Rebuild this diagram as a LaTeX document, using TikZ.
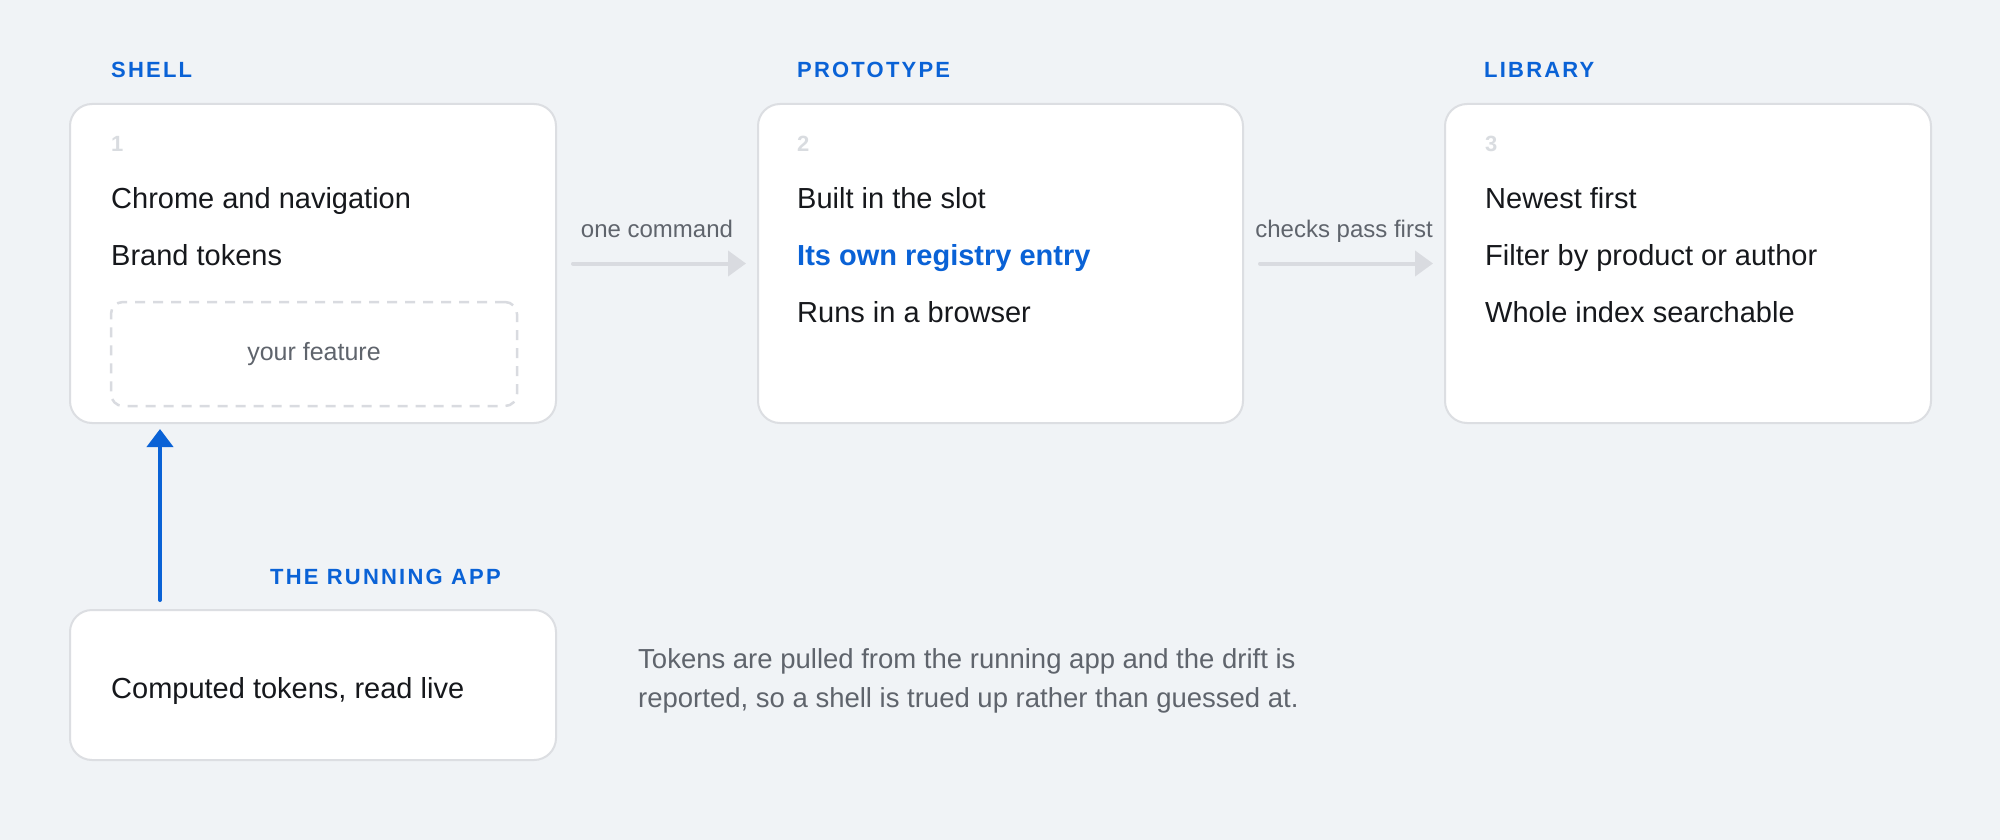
\documentclass[tikz,border=0pt]{standalone}
\usepackage{fontspec}
\setmainfont{Liberation Sans}
\newfontfamily\capsfont[LetterSpace=10]{Liberation Sans}
\usetikzlibrary{arrows.meta}
\definecolor{accent}{HTML}{0A62D6}
\definecolor{paper}{HTML}{F0F3F6}
\definecolor{rim}{HTML}{DCDEE2}
\definecolor{ink}{HTML}{16181C}
\definecolor{muted}{HTML}{5F646C}
\definecolor{faint}{HTML}{D9DCE0}
\definecolor{flowgray}{HTML}{D9DBE0}
\begin{document}
\begin{tikzpicture}[x=1pt,y=-1pt,
  card/.style={draw=rim, line width=2pt, fill=white, rounded corners=22pt, inner sep=0pt},
  slot/.style={draw=flowgray, line width=2.5pt, dash pattern=on 10pt off 8pt, rounded corners=12pt,
    minimum width=406pt, minimum height=104pt, text=muted, font=\fontsize{25}{30}\selectfont},
  txt/.style={anchor=base west, inner sep=0pt, text=ink, font=\fontsize{29}{35}\selectfont},
  num/.style={anchor=base west, inner sep=0pt, text=faint, font=\fontsize{22}{26}\selectfont\bfseries},
  head/.style={anchor=base west, inner sep=0pt, text=accent, font=\capsfont\fontsize{22}{26}\selectfont\bfseries},
  note/.style={anchor=base west, inner sep=0pt, text=muted, font=\fontsize{27.5}{40}\selectfont},
  flow/.style={draw=flowgray, line width=4pt, line cap=round, shorten <=16pt, shorten >=11pt,
    -{Triangle[length=18pt,width=25pt]}},
  flowlabel/.style={text=muted, inner sep=0pt, anchor=base, yshift=26pt, font=\fontsize{24}{28}\selectfont},
  lift/.style={draw=accent, line width=4pt, line cap=round, shorten <=9pt, shorten >=5pt,
    -{Triangle[length=18pt,width=26pt]}}]
\fill[paper] (0,0) rectangle (2000,840);
% three stages
\node[card, minimum width=486pt, minimum height=319pt] (shell) at (313,263.5) {};
\node[card, minimum width=485pt, minimum height=319pt] (proto) at (1000.5,263.5) {};
\node[card, minimum width=486pt, minimum height=319pt] (lib) at (1688,263.5) {};
\node[head] (shellhead) at (111,78) {SHELL};
\node[head] (protohead) at (797,78) {PROTOTYPE};
\node[head] (libhead) at (1484,78) {LIBRARY};
\node[num] (n1) at (111,152) {1};
\node[num] (n2) at (797,152) {2};
\node[num] (n3) at (1485,152) {3};
\node[txt] (chrome) at (111,208) {Chrome and navigation};
\node[txt] (brand) at (111,265) {Brand tokens};
\node[slot] (feature) at (314,354) {your feature};
\node[txt] (built) at (797,208) {Built in the slot};
\node[txt, text=accent, font=\fontsize{29}{35}\selectfont\bfseries] (entry) at (797,265) {Its own registry entry};
\node[txt] (browser) at (797,322) {Runs in a browser};
\node[txt] (newest) at (1485,208) {Newest first};
\node[txt] (filter) at (1485,265) {Filter by product or author};
\node[txt] (index) at (1485,322) {Whole index searchable};
\draw[flow] (shell.east) -- (proto.west) node[flowlabel, midway] {one command};
\draw[flow] (proto.east) -- (lib.west) node[flowlabel, midway] {checks pass first};
% running app
\node[card, minimum width=486pt, minimum height=150pt] (app) at (313,685) {};
\node[head] (apphead) at (270,584) {THE RUNNING APP};
\node[txt] (computed) at (111,698) {Computed tokens, read live};
\coordinate (feed) at (160,0);
\draw[lift] (feed |- app.north) -- (feed |- shell.south);
\node[note] (note1) at (638,668) {Tokens are pulled from the running app and the drift is};
\node[note] (note2) at (638,707) {reported, so a shell is trued up rather than guessed at.};
\end{tikzpicture}
\end{document}
